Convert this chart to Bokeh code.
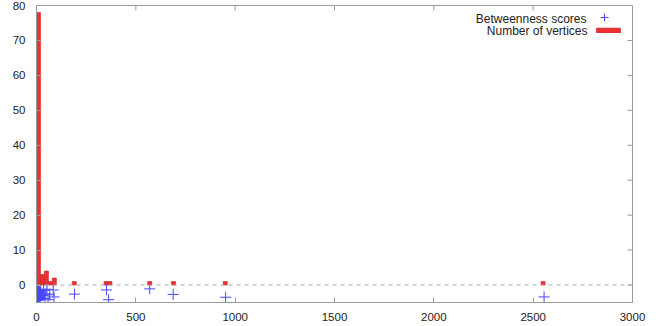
import numpy as np
from bokeh.plotting import figure
from bokeh.models import (Range1d, FixedTicker, Span, Legend, LegendItem,
                          ColumnDataSource, Label)
from bokeh.embed import file_html
from bokeh.resources import INLINE

# ---- data -------------------------------------------------------------
scores = [
    0, 0, 0, 0, 0, 0, 0, 0, 0, 0,
    0, 0, 0, 0, 0, 0, 0, 0, 0, 0,
    0, 0, 0, 0, 0, 0, 0, 0, 0, 0,
    0.4, 0.8, 1.1, 1.5, 1.9, 2.2, 2.6, 3.0, 3.3, 3.7,
    4.1, 4.4, 4.8, 5.2, 5.5, 5.9, 6.3, 6.6, 7.0, 7.4,
    7.7, 8.1, 8.5, 8.8, 9.2, 9.6, 9.9, 10.3, 10.7, 11.0,
    11.4, 11.8, 12.1, 12.6, 13.2, 13.8, 14.5, 15.1, 15.8, 16.4,
    17.0, 17.6, 18.2, 18.8, 19.3, 0.2, 0.6, 1.3,
    22, 29, 36, 42, 47, 53, 58, 66, 84, 88,
    191, 352, 363, 570, 688, 952, 2555,
]
jitter = [
    -2.1, -3.4, -2.8, -1.6, -4.0, -3.1, -2.5, -3.8, -1.9, -2.9,
    -3.6, -2.2, -4.3, -3.0, -1.7, -2.6, -3.9, -2.4, -3.3, -4.1,
    -2.0, -3.5, -2.7, -1.4, -3.2, -4.4, -2.3, -3.7, -2.9, -1.8,
    -3.1, -2.4, -4.0, -2.8, -3.5, -1.9, -3.3, -2.6, -4.2, -3.0,
    -2.2, -3.8, -2.5, -1.5, -3.4, -2.9, -4.1, -2.1, -3.6, -2.7,
    -3.2, -1.8, -4.3, -2.6, -3.0, -2.3, -3.9, -1.6, -3.4, -2.8,
    -2.0, -3.6, -2.4, -4.0, -1.3, -3.1, -2.7, -3.7, -2.2, -1.5,
    -3.3, -2.5, -4.1, -1.9, -2.9, -3.5, -2.3, -3.0,
    -2.0, -3.0, -1.5, -3.8, -2.5, -1.2, -4.2, -2.8, -1.4, -3.4,
    -2.6, -1.4, -4.2, -1.1, -2.7, -3.5, -3.4,
]
bin_width = 20
x_ticks = [0, 500, 1000, 1500, 2000, 2500, 3000]
y_ticks = [0, 10, 20, 30, 40, 50, 60, 70, 80]
series_names = ["Betweenness scores", "Number of vertices"]
X_MIN, X_MAX = 0, 3000
Y_MIN, Y_MAX = -5, 80

# histogram of scores
edges = np.arange(0, max(scores) + bin_width, bin_width)
counts, edges = np.histogram(scores, bins=edges)
centers = (edges[:-1] + edges[1:]) / 2
mask = counts > 0
bars = ColumnDataSource(dict(x=centers[mask], top=counts[mask]))
pts = ColumnDataSource(dict(x=scores, y=jitter))

# ---- figure -----------------------------------------------------------
p = figure(width=659, height=326, output_backend="svg", toolbar_location=None,
           x_range=Range1d(X_MIN, X_MAX), y_range=Range1d(Y_MIN, Y_MAX),
           min_border_left=36, min_border_right=27, min_border_top=5,
           min_border_bottom=24)
p.background_fill_color = "white"
p.border_fill_color = "white"
p.outline_line_color = "#9a9a9a"
p.grid.visible = False

FONT = "Liberation Sans"
GREY = "#9a9a9a"
for ax in [p.xaxis[0], p.yaxis[0]]:
    ax.major_tick_in = 5
    ax.major_tick_out = 0
    ax.minor_tick_line_color = None
    ax.axis_line_color = GREY
    ax.major_tick_line_color = GREY
    ax.major_label_text_font = FONT
    ax.major_label_text_font_size = "11.5px"
    ax.major_label_text_color = "#222222"
p.xaxis[0].major_label_standoff = 10
p.yaxis[0].major_label_standoff = 11
p.xaxis[0].ticker = FixedTicker(ticks=x_ticks)
p.yaxis[0].ticker = FixedTicker(ticks=y_ticks)

# mirrored inward ticks on the top and right frame edges (clipped to frame)
p.scatter(x=x_ticks, y=[Y_MAX] * len(x_ticks), marker="dash", size=10,
          angle=np.pi / 2, line_color=GREY, line_width=1)
p.scatter(x=[X_MAX] * len(y_ticks), y=y_ticks, marker="dash", size=10,
          line_color=GREY, line_width=1)

# zero line
p.add_layout(Span(location=0, dimension="width", line_color="#aaaaaa",
                  line_dash="4 4", line_width=1))

r_bar = p.vbar(x="x", top="top", width=bin_width, bottom=0, source=bars,
               fill_color="#ee3030", line_color="#c82020", line_width=0.6)
r_pts = p.scatter(x="x", y="y", source=pts, marker="cross", size=11,
                  line_color="#4848ff", line_width=1)


# legend: text right-aligned, key symbol to its right (gnuplot style)
def legend_key(renderer, gw, gh, loc):
    lg = Legend(items=[LegendItem(label="", renderers=[renderer])],
                location=loc)
    lg.background_fill_alpha = 0
    lg.border_line_color = None
    lg.label_text_font_size = "11px"
    lg.glyph_width = gw
    lg.glyph_height = gh
    lg.label_standoff = 0
    lg.label_height = 12
    lg.label_width = 0
    lg.padding = 0
    lg.margin = 0
    lg.spacing = 0
    return lg


p.add_layout(legend_key(r_pts, 20, 20, (558, 275)))
p.add_layout(legend_key(r_bar, 30, 6, (557, 266)))

for name, xo, yo in [(series_names[0], -46, -13), (series_names[1], -45, -25)]:
    p.add_layout(Label(x=X_MAX, y=Y_MAX, x_offset=xo, y_offset=yo, text=name,
                       text_align="right", text_baseline="middle",
                       text_font=FONT, text_font_size="12px",
                       text_color="#222222"))

open("out.html", "w").write(file_html(p, INLINE))
